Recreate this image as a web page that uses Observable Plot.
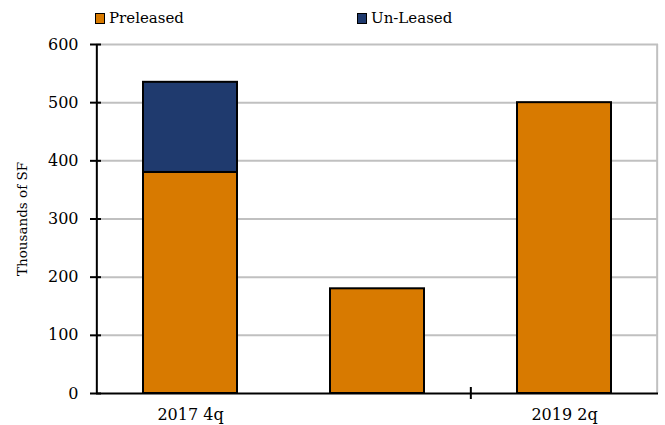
<!DOCTYPE html>
<html><head><meta charset="utf-8">
<script src="https://cdn.jsdelivr.net/npm/d3@7"></script>
<script src="https://cdn.jsdelivr.net/npm/@observablehq/plot@0.6"></script>
<style>
body{margin:0;background:#fff;font-family:"DejaVu Serif",serif;}
#legend{position:relative;height:35px;font-size:15px;color:#000;}
.item{position:absolute;top:9px;display:flex;align-items:center;}
.sw{width:8px;height:9px;border:1.5px solid #000;margin-right:4px;}
svg{display:block;}
</style></head><body>
<div id="legend"></div>
<div id="chart"></div>
<script>
const categories = ["2017 4q", "2018 3q", "2019 2q"];
const tickLabels = ["2017 4q", "", "2019 2q"];
const series = ["Preleased", "Un-Leased"];
const preleased = [380, 180, 500];
const unleased = [155, 0, 0];
const yTicks = [0, 100, 200, 300, 400, 500, 600];
const colors = ["#D87A00", "#1F3A6E"];

const data = [];
categories.forEach((c, i) => {
  data.push({cat: c, series: series[0], value: preleased[i]});
  if (unleased[i] > 0) data.push({cat: c, series: series[1], value: unleased[i]});
});

const lg = document.getElementById("legend");
const legendX = [95, 357];
series.forEach((s, i) => {
  const d = document.createElement("div");
  d.className = "item"; d.style.left = legendX[i] + "px";
  d.innerHTML = `<span class="sw" style="background:${colors[i]}"></span><span>${s}</span>`;
  lg.appendChild(d);
});

const W = 665, H = 390, mL = 96, mR = 7, mT = 9, mB = 32;
const fw = W - mL - mR;
const step = fw / categories.length;

const chart = Plot.plot({
  width: W, height: H,
  marginLeft: mL, marginRight: mR, marginTop: mT, marginBottom: mB,
  style: {fontFamily: "DejaVu Serif, serif", fontSize: "16px", color: "#000", background: "#fff"},
  x: {domain: categories, paddingInner: 0.5, paddingOuter: 0.25, label: null},
  y: {domain: [0, 600], ticks: yTicks, label: null},
  color: {domain: series, range: colors},
  marks: [
    Plot.gridY(yTicks.filter(t => t > 0), {stroke: "#c0c0c0", strokeWidth: 2, strokeOpacity: 1}),
    Plot.ruleX([categories[categories.length - 1]], {stroke: "#c0c0c0", strokeWidth: 2, dx: step / 2 - 1}),
    Plot.barY(data, {x: "cat", y: "value", fill: "series", stroke: "#000", strokeWidth: 2, order: series}),
    Plot.axisY({ticks: yTicks, tickSize: 6, tickPadding: 12, strokeWidth: 2, label: null, fontSize: 16}),
    Plot.tickY(yTicks, {y: d => d, stroke: "#000", strokeWidth: 2, insetRight: fw - 5}),
    Plot.axisX({tickFormat: d => tickLabels[categories.indexOf(d)], tickSize: 0, tickPadding: 15, label: null, fontSize: 16}),
    Plot.ruleY([0], {stroke: "#000", strokeWidth: 2}),
    Plot.ruleX([categories[0]], {stroke: "#000", strokeWidth: 2, dx: -step / 2}),
    Plot.ruleX([categories[2]], {y1: 0, y2: 0, stroke: "#000", strokeWidth: 2, dx: -step / 2, insetTop: -6, insetBottom: -6}),
    Plot.text(["Thousands of SF"], {frameAnchor: "left", textAnchor: "middle", rotate: -90, dx: -74, fontSize: 13.5})
  ]
});
document.getElementById("chart").appendChild(chart);
</script>
</body></html>
